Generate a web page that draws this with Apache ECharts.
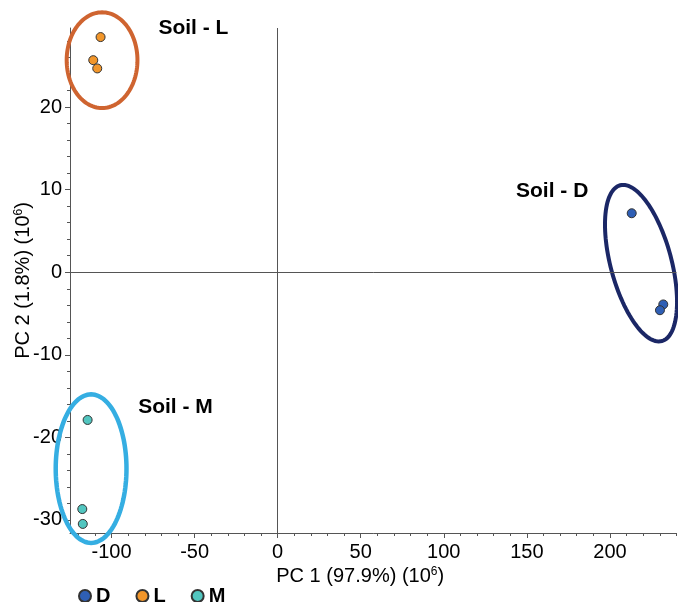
<!DOCTYPE html>
<html>
<head>
<meta charset="utf-8">
<style>html,body{margin:0;padding:0;background:#fff;}#main{width:678px;height:602px;}</style>
<script src="https://cdn.jsdelivr.net/npm/echarts@6/dist/echarts.min.js"></script>
</head>
<body>
<div id="main"></div>
<script>
// ---- data ----
const seriesNames = ['D', 'L', 'M'];
const pointsD = [[213.1, 7.15], [232.1, -3.9], [230.1, -4.6]];
const pointsL = [[-106.6, 28.5], [-111.0, 25.7], [-108.6, 24.7]];
const pointsM = [[-114.4, -17.9], [-117.6, -28.7], [-117.3, -30.5]];
// ellipse: [centerX, centerY, radiusX, radiusY, rotationDeg]
const ellipseD = [218.7, 1.1, 18.3, 9.77, -15];
const ellipseL = [-105.7, 25.7, 21.3, 5.8, 0];
const ellipseM = [-112.3, -23.8, 21.3, 9.0, 0];
const groupLabels = ['Soil - D', 'Soil - L', 'Soil - M'];
const labelPositions = [[165.2, 9.85], [-50.7, 29.6], [-61.5, -16.3]];
const xMajorTicks = [-100, -50, 0, 50, 100, 150, 200];
const xMinorTicks = [-120, -110, -100, -90, -80, -70, -60, -50, -40, -30, -20, -10, 0, 10, 20, 30, 40, 50, 60, 70, 80, 90, 100, 110, 120, 130, 140, 150, 160, 170, 180, 190, 200, 210, 220, 230, 240];
const yMajorTicks = [-30, -20, -10, 0, 10, 20];
const yMinorTicks = [-30, -28, -26, -24, -22, -20, -18, -16, -14, -12, -10, -8, -6, -4, -2, 0, 2, 4, 6, 8, 10, 12, 14, 16, 18, 20, 22, 24, 26, 28];
const xRange = [-125, 240];
const yRange = [-31.6, 29.6];

// ---- styles ----
const pointColors = ['#2f5fb5', '#f2962a', '#52c6c0'];
const ellipseColors = ['#1b2766', '#cf6430', '#35aee2'];
const ellipseWidths = [4, 4, 4.5];
const axisColor = '#555';
const font = '"Liberation Sans", Arial, Helvetica, sans-serif';

const chart = echarts.init(document.getElementById('main'), null, {renderer: 'canvas'});

function ellipseRender(params, api) {
  const c = api.coord([api.value(0), api.value(1)]);
  const s = api.size([api.value(2), api.value(3)]);
  const rot = api.value(4) * Math.PI / 180;
  const idx = params.dataIndex;
  const pts = [];
  const n = 120;
  for (let i = 0; i < n; i++) {
    const t = 2 * Math.PI * i / n;
    const lx = s[0] * Math.cos(t), ly = s[1] * Math.sin(t);
    pts.push([c[0] + lx * Math.cos(rot) - ly * Math.sin(rot), c[1] + lx * Math.sin(rot) + ly * Math.cos(rot)]);
  }
  return {
    type: 'polygon',
    shape: {points: pts},
    style: {fill: null, stroke: ellipseColors[idx], lineWidth: ellipseWidths[idx]}
  };
}

const xBase = {
  type: 'value', min: xRange[0], max: xRange[1], position: 'bottom',
  splitLine: {show: false}
};
const yBase = {
  type: 'value', min: yRange[0], max: yRange[1], position: 'left',
  splitLine: {show: false}
};

const option = {
  animation: false,
  backgroundColor: '#fff',
  textStyle: {fontFamily: font},
  grid: {left: 70, right: 1.6, top: 28, bottom: 69, containLabel: false, outerBoundsMode: 'none'},
  legend: {
    data: seriesNames,
    left: 73, top: 581,
    icon: 'circle', itemWidth: 12, itemHeight: 12, itemGap: 25,
    textStyle: {fontFamily: font, fontWeight: 'bold', fontSize: 20, color: '#000'}
  },
  xAxis: [
    Object.assign({}, xBase, {
      name: 'PC 1 (97.9%) (10{sup|6})',
      nameLocation: 'middle', nameGap: 33, nameMoveOverlap: false,
      nameTextStyle: {
        fontFamily: font, fontSize: 20, color: '#000', padding: [0, 26, 0, 0],
        rich: {sup: {fontFamily: font, fontSize: 12, color: '#000', padding: [0, 0, 9, 0]}}
      },
      axisLine: {show: true, onZero: false, lineStyle: {color: axisColor, width: 1}},
      axisTick: {show: true, length: 5, customValues: xMajorTicks, lineStyle: {color: axisColor}},
      axisLabel: {show: true, customValues: xMajorTicks, margin: 9, fontFamily: font, fontSize: 20, color: '#000'}
    }),
    Object.assign({}, xBase, {
      axisLine: {show: false, onZero: false},
      axisTick: {show: true, length: 3, customValues: xMinorTicks, lineStyle: {color: axisColor}},
      axisLabel: {show: false}
    })
  ],
  yAxis: [
    Object.assign({}, yBase, {
      name: 'PC 2 (1.8%) (10{sup|6})',
      nameLocation: 'middle', nameGap: 36, nameRotate: 90, nameMoveOverlap: false,
      nameTextStyle: {
        fontFamily: font, fontSize: 20, color: '#000',
        rich: {sup: {fontFamily: font, fontSize: 12, color: '#000', padding: [0, 0, 9, 0]}}
      },
      axisLine: {show: true, onZero: false, lineStyle: {color: axisColor, width: 1}},
      axisTick: {show: true, length: 5, customValues: yMajorTicks, lineStyle: {color: axisColor}},
      axisLabel: {show: true, customValues: yMajorTicks, margin: 8, fontFamily: font, fontSize: 20, color: '#000'}
    }),
    Object.assign({}, yBase, {
      axisLine: {show: false, onZero: false},
      axisTick: {show: true, length: 3, customValues: yMinorTicks, lineStyle: {color: axisColor}},
      axisLabel: {show: false}
    })
  ],
  series: [
    {
      name: 'zero', type: 'scatter', data: [], silent: true,
      markLine: {
        silent: true, symbol: ['none', 'none'], animation: false,
        label: {show: false},
        lineStyle: {color: '#555', width: 1, type: 'solid'},
        data: [{xAxis: 0}, {yAxis: 0}]
      }
    },
    {
      name: 'ellipses', type: 'custom', clip: false, silent: true,
      renderItem: ellipseRender,
      encode: {x: 0, y: 1},
      data: [ellipseD, ellipseL, ellipseM],
      z: 3
    },
    {
      name: 'D', type: 'scatter', data: pointsD, symbolSize: 9, z: 4,
      itemStyle: {color: pointColors[0], borderColor: '#333', borderWidth: 1, opacity: 1}
    },
    {
      name: 'L', type: 'scatter', data: pointsL, symbolSize: 9, z: 4,
      itemStyle: {color: pointColors[1], borderColor: '#333', borderWidth: 1, opacity: 1}
    },
    {
      name: 'M', type: 'scatter', data: pointsM, symbolSize: 9, z: 4,
      itemStyle: {color: pointColors[2], borderColor: '#333', borderWidth: 1, opacity: 1}
    },
    {
      name: 'labels', type: 'scatter', symbolSize: 0, silent: true, z: 5,
      data: labelPositions.map((p, i) => ({value: p, name: groupLabels[i]})),
      label: {
        show: true, position: 'inside', formatter: '{b}', opacity: 1,
        fontFamily: font, fontWeight: 'bold', fontSize: 21, color: '#000'
      }
    }
  ]
};
chart.setOption(option);
</script>
</body>
</html>
